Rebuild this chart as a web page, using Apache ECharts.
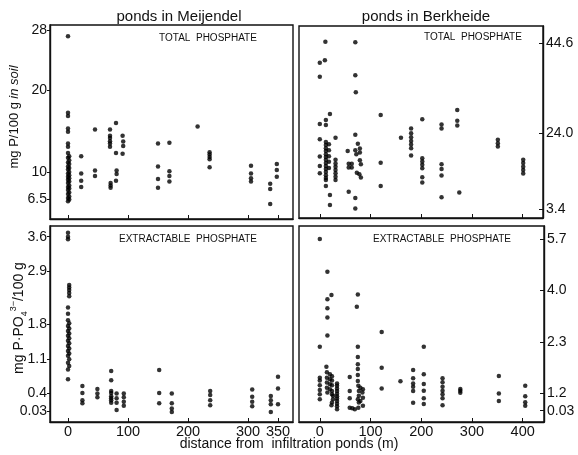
<!DOCTYPE html>
<html><head><meta charset="utf-8">
<script src="https://cdn.jsdelivr.net/npm/echarts@6/dist/echarts.min.js"></script>
<style>html,body{margin:0;padding:0;background:#fff}#c{width:578px;height:455px}</style>
</head><body><div id="c"></div>
<script>
// ---- axes / tick labels ----
const meijendelTicksX = [0, 100, 200, 300, 350];
const berkheideTicksX = [0, 100, 200, 300, 400];
const totalMeijTickAt = [28, 20.4, 10, 6.5];
const totalMeijTickText = ['28', '20', '10', '6.5'];
const totalBerkTickAt = [44.6, 22.26, 3.4];
const totalBerkTickText = ['44.6', '24.0', '3.4'];
const extrMeijTickAt = [3.6, 2.9, 1.8, 1.1, 0.4, 0.03];
const extrMeijTickText = ['3.6', '2.9', '1.8', '1.1', '0.4', '0.03'];
const extrBerkTickAt = [5.7, 4.0, 2.3, 0.61, 0.03];
const extrBerkTickText = ['5.7', '4.0', '2.3', '1.2', '0.03'];

// ---- data: [distance (m), value] ----
const meijendelTotal = [
 [0,27.2],[0,17.5],[0,17.1],[0,15.5],[0,15.1],[0,13.6],[0,13.2],[0,12.4],[2,12.0],[0,11.8],[2,11.5],[0,11.2],
 [2,11.0],[0,10.7],[2,10.5],[0,10.3],[2,10.0],[0,9.8],[2,9.6],[0,9.4],[2,9.2],[0,9.0],[2,8.8],[0,8.6],[2,8.3],
 [0,8.1],[2,7.9],[0,7.7],[2,7.4],[0,7.2],[2,6.9],[0,6.7],[2,6.5],[0,6.3],
 [22,12.0],[22,9.8],[22,8.9],[22,8.1],
 [45,15.4],[45,10.2],[45,9.5],
 [70,15.4],[70,14.6],[70,14.3],[70,13.9],[70,13.6],[70,13.2],[71,8.6],[71,8.3],[71,8.0],
 [80,16.2],[80,12.4],[81,10.2],[81,9.75],[80,8.9],
 [91,14.6],[92,13.85],[92,13.3],[91,12.3],
 [150,13.6],[150,10.7],[150,9.1],[150,8.0],
 [169,13.7],[169,10.1],[169,9.5],[169,8.8],
 [216,15.75],
 [236,12.5],[236,12.2],[236,11.9],[236,11.6],[236,10.6],
 [305,10.8],[305,9.8],[305,9.2],[305,8.8],
 [337,8.5],[337,7.85],[337,5.95],
 [348,11.0],[348,10.25],[348,9.4]
];
const berkheideTotal = [
 [0,39.7],[0,36.2],[0,24.5],[0,20.7],[0,16.4],[0,14.1],[0,12.3],
 [11,44.9],[10,40.3],[70,44.8],[70,36.6],[71,32.4],
 [20,27.0],[12,25.5],[12,24.25],
 [12,20.0],[12,19.3],[12,18.5],[12,17.8],[12,17.0],[12,16.3],[12,15.6],[12,14.8],[12,14.1],[12,13.3],[12,12.6],
 [12,11.8],[12,11.1],[12,10.6],[12,9.1],
 [18,19.5],[18,18.0],[18,16.5],[18,15.1],[18,13.6],[20,6.9],[20,4.4],
 [31,21.1],[31,15.6],[31,14.7],[31,13.9],[31,13.1],[31,12.3],[31,11.4],[31,10.6],
 [55,17.8],[57,7.7],[57,14.6],[57,13.7],[63,14.6],[63,13.7],
 [70,21.8],[75,19.6],[79,18.4],[79,17.4],[70,18.0],[72,17.0],[79,15.5],[81,14.5],[73,12.4],[78,12.0],[81,11.2],
 [70,6.1],[70,3.5],
 [120,26.7],[120,14.9],[120,9.1],
 [160,21.1],
 [180,23.4],[180,22.2],[180,21.2],[180,20.3],[180,19.4],[180,18.5],[180,16.7],
 [202,25.7],[202,16.0],[202,15.2],[202,14.4],[202,13.5],[202,11.3],[202,10.0],
 [240,24.4],[240,23.4],[240,14.5],[240,13.3],[240,11.7],[240,6.3],
 [271,28.0],[271,25.3],[271,24.1],[275,7.5],
 [351,20.6],[351,19.7],[351,18.9],
 [401,15.6],[401,14.8],[401,13.9],[401,13.1],[401,12.2]
];
const meijendelExtract = [
 [0,3.68],[0,3.6],[0,3.55],[2,2.61],[2,2.56],[2,2.51],[2,2.45],[2,2.38],[0,2.15],[0,2.02],[0,1.89],[2,1.83],
 [0,1.77],[2,1.72],[0,1.67],[2,1.62],[0,1.57],[2,1.52],[0,1.47],[2,1.42],[0,1.36],[2,1.31],[0,1.26],[2,1.21],
 [0,1.16],[2,1.09],[0,1.02],[2,0.95],[0,0.88],[0,0.68],
 [24,0.54],[24,0.40],[24,0.25],[24,0.19],
 [49,0.48],[49,0.39],[49,0.31],
 [72,0.85],[72,0.66],[72,0.44],[72,0.40],[72,0.33],[72,0.29],[72,0.25],[72,0.20],
 [81,0.39],[81,0.29],[81,0.20],[81,0.05],
 [93,0.39],[93,0.31],[93,0.22],[93,0.14],
 [152,0.87],[152,0.40],[152,0.19],
 [173,0.39],[173,0.19],[173,0.08],[173,0.01],
 [237,0.44],[237,0.36],[237,0.25],[237,0.15],
 [307,0.47],[307,0.32],[307,0.22],[307,0.13],
 [338,0.34],[338,0.25],[338,0.17],[338,0.01],
 [350,0.73],[350,0.49],[350,0.17]
];
const berkheideExtract = [
 [0,5.7],[0,2.14],[0,1.12],[0,1.03],[0,0.87],[0,0.71],[0,0.57],[0,0.41],
 [15,4.62],[15,3.71],[15,3.41],[15,3.11],[15,2.51],[23,3.85],
 [13,1.48],[14,1.30],[20,1.23],[24,1.17],[14,1.12],[20,1.07],[24,1.03],[14,0.96],[20,0.90],[24,0.87],
 [14,0.79],[20,0.74],[24,0.68],[15,0.63],[24,0.57],[26,0.52],[26,0.41],[24,0.30],[23,0.21],
 [34,0.93],[34,0.85],[34,0.76],[34,0.68],[34,0.59],[34,0.51],[34,0.43],[34,0.35],[34,0.26],[34,0.18],[34,0.08],
 [59,1.14],[59,0.68],[59,0.44],[59,0.13],[64,0.11],[69,0.08],
 [75,3.87],[73,3.46],[75,2.14],[75,1.80],[75,1.56],[75,1.41],[75,1.21],[75,1.01],[76,0.85],
 [80,0.79],[85,0.74],[77,0.68],[84,0.63],[77,0.52],[85,0.46],[75,0.41],[80,0.35],[77,0.30],[85,0.19],[76,0.13],
 [122,2.63],[122,1.45],[122,0.76],
 [159,1.0],
 [184,1.37],[184,1.10],[184,0.93],[184,0.82],[184,0.68],[184,0.29],
 [205,2.14],[205,1.23],[205,0.91],[205,0.69],[205,0.44],[205,0.25],
 [242,1.10],[242,0.97],[242,0.82],[242,0.69],[242,0.57],[242,0.44],[242,0.21],
 [277,0.75],[277,0.69],[277,0.62],
 [353,1.18],[353,0.60],[353,0.35],
 [405,0.85],[405,0.51],[405,0.31],[405,0.19]
];

const FONT = '"Liberation Sans", Arial, sans-serif';
const INK = '#111';

function xAx(gi, min, max, ticks, showLabels) {
  return {
    type: 'value', gridIndex: gi, min: min, max: max,
    axisLine: { show: true, onZero: false, lineStyle: { color: INK, width: 1.4 } },
    splitLine: { show: false },
    axisTick: { show: true, inside: true, length: 4, customValues: ticks, lineStyle: { color: INK, width: 1 } },
    axisLabel: { show: showLabels, customValues: ticks, margin: 2, color: INK, fontSize: 14.5, fontFamily: FONT }
  };
}
function yAx(gi, min, max, ticks, labels, pos) {
  return {
    type: 'value', gridIndex: gi, min: min, max: max, position: pos,
    axisLine: { show: true, onZero: false, lineStyle: { color: INK, width: 1.4 } },
    splitLine: { show: false },
    axisTick: { show: true, inside: pos === 'right', length: pos === 'right' ? 4 : 3, customValues: ticks, lineStyle: { color: INK, width: 1 } },
    axisLabel: {
      show: true, customValues: ticks, margin: 3, color: INK, fontSize: 14, fontFamily: FONT,
      formatter: function (v) {
        for (let i = 0; i < ticks.length; i++) if (Math.abs(ticks[i] - v) < 1e-6) return labels[i];
        return '';
      }
    }
  };
}
function grid(l, t, w, h) {
  return { left: l, top: t, width: w, height: h, show: true, borderColor: INK, borderWidth: 1.4,
           containLabel: false, outerBoundsMode: 'none' };
}
function scat(i, data) {
  return { type: 'scatter', xAxisIndex: i, yAxisIndex: i, data: data, symbol: 'circle', symbolSize: 4.5,
           itemStyle: { color: '#000' }, silent: true };
}
function txt(x, y, text, size, extra) {
  return Object.assign({ type: 'text', x: x, y: y, silent: true,
    style: { text: text, fill: INK, font: size + 'px ' + FONT, textAlign: 'center', textVerticalAlign: 'middle' } }, extra || {});
}

const chart = echarts.init(document.getElementById('c'), null, { renderer: 'canvas' });
chart.setOption({
  animation: false,
  backgroundColor: '#fff',
  grid: [grid(50, 25, 243, 194), grid(299, 26, 244, 192), grid(50, 226, 243, 196), grid(299, 226, 245, 196)],
  xAxis: [
    xAx(0, -30, 375, meijendelTicksX, false),
    xAx(1, -41, 440, berkheideTicksX, false),
    xAx(2, -30, 375, meijendelTicksX, true),
    xAx(3, -41, 442, berkheideTicksX, true)
  ],
  yAxis: [
    yAx(0, 4.04, 28.63, totalMeijTickAt, totalMeijTickText, 'left'),
    yAx(1, 1.166, 48.82, totalBerkTickAt, totalBerkTickText, 'right'),
    yAx(2, -0.195, 3.82, extrMeijTickAt, extrMeijTickText, 'left'),
    yAx(3, -0.343, 6.129, extrBerkTickAt, extrBerkTickText, 'right')
  ],
  series: [scat(0, meijendelTotal), scat(1, berkheideTotal), scat(2, meijendelExtract), scat(3, berkheideExtract)],
  graphic: [
    txt(179, 17, 'ponds in Meijendel', 15),
    txt(426, 17, 'ponds in Berkheide', 15),
    txt(208, 38, 'TOTAL  PHOSPHATE', 10),
    txt(473, 37, 'TOTAL  PHOSPHATE', 10),
    txt(188, 239, 'EXTRACTABLE  PHOSPHATE', 10),
    txt(442, 239, 'EXTRACTABLE  PHOSPHATE', 10),
    txt(289, 444, 'distance from  infiltration ponds (m)', 14),
    {
      type: 'text', x: 14, y: 117, rotation: Math.PI / 2, silent: true,
      style: {
        text: '{a|mg P/100 g} {b|in soil}', textAlign: 'center', textVerticalAlign: 'middle',
        rich: {
          a: { fontSize: 13, fontFamily: FONT, fill: INK, color: INK },
          b: { fontSize: 13, fontFamily: FONT, fontStyle: 'italic', fill: INK, color: INK }
        }
      }
    },
    {
      type: 'text', x: 19, y: 318, rotation: Math.PI / 2, silent: true,
      style: {
        text: '{a|mg P·PO}{s|4}{p|3−}{a|/100 g}', textAlign: 'center', textVerticalAlign: 'middle',
        rich: {
          a: { fontSize: 14, fontFamily: FONT, fill: INK, color: INK, lineHeight: 20 },
          s: { fontSize: 9, fontFamily: FONT, fill: INK, color: INK, verticalAlign: 'bottom', lineHeight: 20 },
          p: { fontSize: 9, fontFamily: FONT, fill: INK, color: INK, verticalAlign: 'top', lineHeight: 20 }
        }
      }
    }
  ]
});
</script>
</body></html>
